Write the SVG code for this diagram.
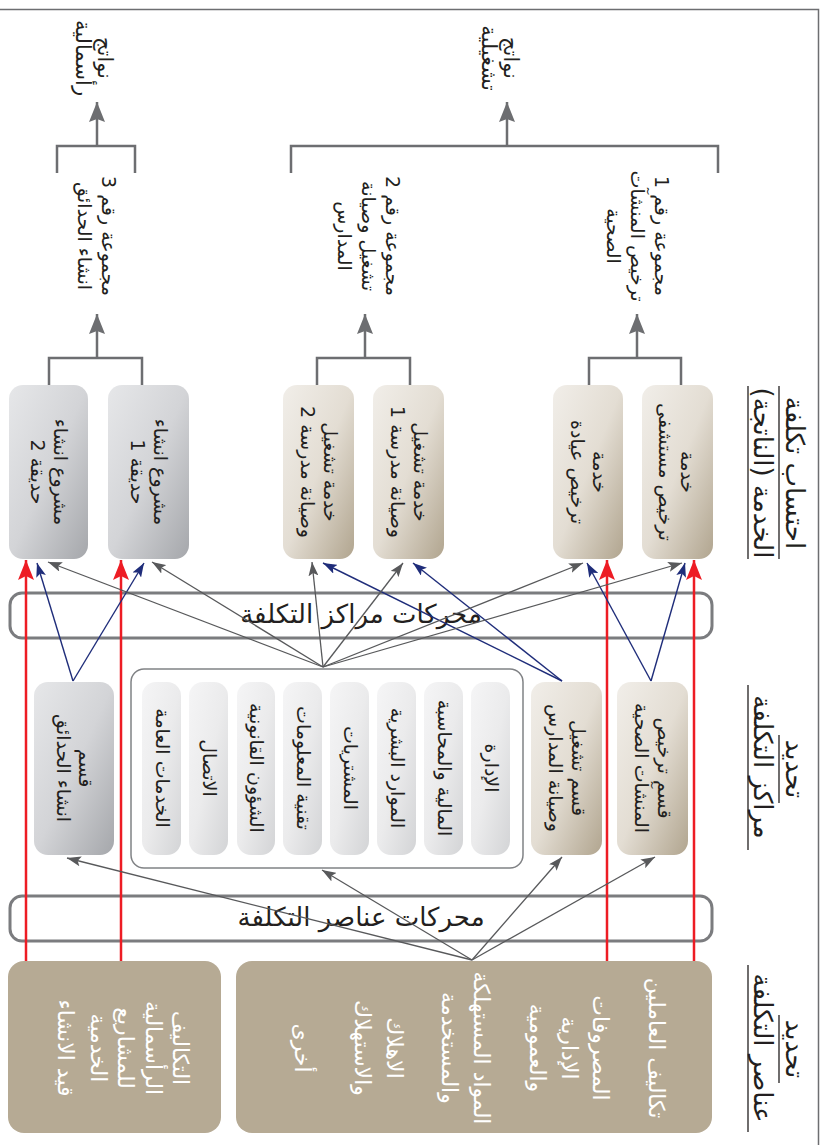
<svg xmlns="http://www.w3.org/2000/svg" width="824" height="1145" viewBox="0 0 824 1145">
<style>
.t{font-family:"DejaVu Sans",sans-serif;font-size:19px;fill:#231f20;text-anchor:middle;direction:rtl}
.o{font-family:"DejaVu Sans",sans-serif;font-size:21px;fill:#231f20;text-anchor:middle;direction:rtl}
.w{font-family:"DejaVu Sans",sans-serif;font-size:22px;fill:#ffffff;text-anchor:middle;direction:rtl}
.h{font-family:"DejaVu Sans",sans-serif;font-size:26px;fill:#231f20;text-anchor:middle;direction:rtl}
.b{font-family:"DejaVu Sans",sans-serif;font-size:26px;fill:#231f20;text-anchor:middle;direction:rtl}
.ul{stroke:#231f20;stroke-width:1.3}
.band{fill:none;stroke:#7b7c7f;stroke-width:3}
.tan{fill:url(#gt)}
.gry{fill:url(#gg)}
.lgt{fill:url(#gl)}
.red{stroke:#ed1c24;stroke-width:2.5;fill:none;marker-end:url(#ar)}
.blu{stroke:#1f2d7a;stroke-width:1.4;fill:none;marker-end:url(#ab)}
.gra{stroke:#58595b;stroke-width:1.3;fill:none;marker-end:url(#ag)}
.brk{stroke:#6d6e71;stroke-width:2.5;fill:none}
.bra{stroke:#6d6e71;stroke-width:2.5;fill:none;marker-end:url(#ak)}
</style>
<defs>
<linearGradient id="gt" x1="0" y1="0" x2="1" y2="1"><stop offset="0" stop-color="#f1eee9"/><stop offset="0.5" stop-color="#e3ddd3"/><stop offset="1" stop-color="#b1a58f"/></linearGradient>
<linearGradient id="gg" x1="0" y1="0" x2="1" y2="1"><stop offset="0" stop-color="#e6e7e9"/><stop offset="0.5" stop-color="#d3d4d7"/><stop offset="1" stop-color="#a5a7ab"/></linearGradient>
<linearGradient id="gl" x1="0" y1="0" x2="1" y2="1"><stop offset="0" stop-color="#f5f5f6"/><stop offset="0.5" stop-color="#ebebec"/><stop offset="1" stop-color="#d3d4d6"/></linearGradient>
<marker id="ar" viewBox="0 0 20 16" refX="20" refY="8" markerWidth="20" markerHeight="16" markerUnits="userSpaceOnUse" orient="auto"><path d="M0,0 L20,8 L0,16 L4,8z" fill="#ed1c24"/></marker>
<marker id="ab" viewBox="0 0 14 10" refX="14" refY="5" markerWidth="14" markerHeight="10" markerUnits="userSpaceOnUse" orient="auto"><path d="M0,0 L14,5 L0,10 L3,5z" fill="#1f2d7a"/></marker>
<marker id="ag" viewBox="0 0 14 10" refX="14" refY="5" markerWidth="14" markerHeight="10" markerUnits="userSpaceOnUse" orient="auto"><path d="M0,0 L14,5 L0,10 L3,5z" fill="#58595b"/></marker>
<marker id="ak" viewBox="0 0 20 16" refX="20" refY="8" markerWidth="20" markerHeight="16" markerUnits="userSpaceOnUse" orient="auto"><path d="M0,0 L20,8 L0,16 L3,8z" fill="#6d6e71"/></marker>
</defs>
<rect width="824" height="1145" fill="#ffffff"/>
<g id="frame" stroke="#6d6e71" stroke-width="1.5" fill="none">
<path d="M0,9.5 H818.5 V1145"/>
</g>

<g id="titles">
<g id="title-elements">
<text class="h" x="786" y="1049" transform="rotate(90 786 1049)">تحديد</text>
<text class="h" x="754" y="1048" transform="rotate(90 754 1048)">عناصر التكلفة</text>
<line class="ul" x1="779" y1="1015" x2="779" y2="1083"/>
<line class="ul" x1="748" y1="965" x2="748" y2="1132"/>
</g>
<g id="title-centers">
<text class="h" x="786" y="769" transform="rotate(90 786 769)">تحديد</text>
<text class="h" x="754" y="767" transform="rotate(90 754 767)">مراكز التكلفة</text>
<line class="ul" x1="779" y1="735" x2="779" y2="803"/>
<line class="ul" x1="748" y1="685" x2="748" y2="850"/>
</g>
<g id="title-service">
<text class="h" x="786" y="473" transform="rotate(90 786 473)">احتساب تكلفة</text>
<text class="h" x="754" y="473" transform="rotate(90 754 473)">الخدمة (الناتجة)</text>
<line class="ul" x1="779" y1="386" x2="779" y2="559"/>
<line class="ul" x1="748" y1="386" x2="748" y2="559"/>
</g>
</g>

<g id="band-elements">
<rect class="band" x="10" y="896" width="702" height="45" rx="12"/>
<text class="b" x="361" y="926">محركات عناصر التكلفة</text>
</g>
<g id="band-centers">
<rect class="band" x="10" y="593" width="702" height="45" rx="12"/>
<text class="b" x="361" y="623">محركات مراكز التكلفة</text>
</g>

<g id="cost-elements">
<rect x="236" y="961" width="476" height="172" rx="16" fill="#b6aa94"/>
<text class="w" x="649" y="1048" transform="rotate(90 649 1048)">تكاليف العاملين</text>
<text class="w" x="593" y="1048" transform="rotate(90 593 1048)">المصروفات</text>
<text class="w" x="562" y="1048" transform="rotate(90 562 1048)">الإدارية</text>
<text class="w" x="530" y="1048" transform="rotate(90 530 1048)">والعمومية</text>
<text class="w" x="474" y="1048" transform="rotate(90 474 1048)">المواد المستهلكة</text>
<text class="w" x="442" y="1048" transform="rotate(90 442 1048)">والمستخدمة</text>
<text class="w" x="387" y="1048" transform="rotate(90 387 1048)">الاهلاك</text>
<text class="w" x="355" y="1048" transform="rotate(90 355 1048)">والاستهلاك</text>
<text class="w" x="295" y="1048" transform="rotate(90 295 1048)">أخرى</text>
</g>
<g id="cost-capital">
<rect x="8" y="961" width="213" height="172" rx="16" fill="#b6aa94"/>
<text class="w" x="173" y="1048" transform="rotate(90 173 1048)">التكاليف</text>
<text class="w" x="146" y="1048" transform="rotate(90 146 1048)">الرأسمالية</text>
<text class="w" x="118" y="1048" transform="rotate(90 118 1048)">للمشاريع</text>
<text class="w" x="91" y="1048" transform="rotate(90 91 1048)">الخدمية</text>
<text class="w" x="58" y="1048" transform="rotate(90 58 1048)">قيد الانشاء</text>
</g>

<g id="dept-licensing">
<rect class="tan" x="617" y="682" width="71" height="173" rx="14"/>
<text class="t" x="658" y="768" transform="rotate(90 658 768)">قسم ترخيص</text>
<text class="t" x="635" y="768" transform="rotate(90 635 768)">المنشآت الصحية</text>
</g>
<g id="dept-schools">
<rect class="tan" x="531" y="682" width="71" height="173" rx="14"/>
<text class="t" x="572" y="768" transform="rotate(90 572 768)">قسم تشغيل</text>
<text class="t" x="549" y="768" transform="rotate(90 549 768)">وصيانة المدارس</text>
</g>
<g id="dept-support">
<rect x="131" y="669" width="392" height="199" rx="13" fill="#ffffff" stroke="#808285" stroke-width="1.5"/>
<rect class="lgt" x="471" y="682" width="39" height="173" rx="14"/>
<text class="t" x="484.5" y="768" transform="rotate(90 484.5 768)">الإدارة</text>
<rect class="lgt" x="424" y="682" width="39" height="173" rx="14"/>
<text class="t" x="437.5" y="768" transform="rotate(90 437.5 768)">المالية والمحاسبة</text>
<rect class="lgt" x="377" y="682" width="39" height="173" rx="14"/>
<text class="t" x="390.5" y="768" transform="rotate(90 390.5 768)">الموارد البشرية</text>
<rect class="lgt" x="330" y="682" width="39" height="173" rx="14"/>
<text class="t" x="343.5" y="768" transform="rotate(90 343.5 768)">المشتريات</text>
<rect class="lgt" x="283" y="682" width="39" height="173" rx="14"/>
<text class="t" x="296.5" y="768" transform="rotate(90 296.5 768)">تقنية المعلومات</text>
<rect class="lgt" x="237" y="682" width="38" height="173" rx="14"/>
<text class="t" x="250" y="768" transform="rotate(90 250 768)">الشؤون القانونية</text>
<rect class="lgt" x="189" y="682" width="39" height="173" rx="14"/>
<text class="t" x="202.5" y="768" transform="rotate(90 202.5 768)">الاتصال</text>
<rect class="lgt" x="142" y="682" width="39" height="173" rx="14"/>
<text class="t" x="155.5" y="768" transform="rotate(90 155.5 768)">الخدمات العامة</text>
</g>
<g id="dept-gardens">
<rect class="gry" x="34" y="682" width="80" height="173" rx="14"/>
<text class="t" x="79" y="768" transform="rotate(90 79 768)">قسم</text>
<text class="t" x="57" y="768" transform="rotate(90 57 768)">انشاء الحدائق</text>
</g>

<g id="svc-hospital">
<rect class="tan" x="642" y="385" width="71" height="174" rx="14"/>
<text class="t" x="681" y="472" transform="rotate(90 681 472)">خدمة</text>
<text class="t" x="659" y="472" transform="rotate(90 659 472)">ترخيص مستشفى</text>
</g>
<g id="svc-clinic">
<rect class="tan" x="553" y="385" width="70" height="174" rx="14"/>
<text class="t" x="593" y="472" transform="rotate(90 593 472)">خدمة</text>
<text class="t" x="571" y="472" transform="rotate(90 571 472)">ترخيص عيادة</text>
</g>
<g id="svc-school1">
<rect class="tan" x="373" y="385" width="71" height="174" rx="14"/>
<text class="t" x="414" y="472" transform="rotate(90 414 472)">خدمة تشغيل</text>
<text class="t" x="391" y="472" transform="rotate(90 391 472)">وصيانة مدرسة 1</text>
</g>
<g id="svc-school2">
<rect class="tan" x="283" y="385" width="71" height="174" rx="14"/>
<text class="t" x="324" y="472" transform="rotate(90 324 472)">خدمة تشغيل</text>
<text class="t" x="301" y="472" transform="rotate(90 301 472)">وصيانة مدرسة 2</text>
</g>
<g id="svc-garden1">
<rect class="gry" x="108" y="385" width="81" height="174" rx="14"/>
<text class="t" x="154" y="472" transform="rotate(90 154 472)">مشروع انشاء</text>
<text class="t" x="131" y="472" transform="rotate(90 131 472)">حديقة 1</text>
</g>
<g id="svc-garden2">
<rect class="gry" x="9" y="385" width="79" height="174" rx="14"/>
<text class="t" x="54" y="472" transform="rotate(90 54 472)">مشروع انشاء</text>
<text class="t" x="31" y="472" transform="rotate(90 31 472)">حديقة 2</text>
</g>

<g id="group1">
<text class="t" x="655" y="236" transform="rotate(90 655 236)">مجموعة رقم 1</text>
<text class="t" x="631" y="236" transform="rotate(90 631 236)">ترخيص المنشآت</text>
<text class="t" x="607" y="236" transform="rotate(90 607 236)">الصحية</text>
</g>
<g id="group2">
<text class="t" x="386" y="236" transform="rotate(90 386 236)">مجموعة رقم 2</text>
<text class="t" x="362" y="236" transform="rotate(90 362 236)">تشغيل وصيانة</text>
<text class="t" x="338" y="236" transform="rotate(90 338 236)">المدارس</text>
</g>
<g id="group3">
<text class="t" x="102" y="236" transform="rotate(90 102 236)">مجموعة رقم 3</text>
<text class="t" x="78" y="236" transform="rotate(90 78 236)">انشاء الحدائق</text>
</g>
<g id="out-operating">
<text class="o" x="504" y="58" transform="rotate(90 504 58)">نواتج</text>
<text class="o" x="482" y="58" transform="rotate(90 482 58)">تشغيلية</text>
</g>
<g id="out-capital">
<text class="o" x="98" y="58" transform="rotate(90 98 58)">نواتج</text>
<text class="o" x="76" y="58" transform="rotate(90 76 58)">رأسمالية</text>
</g>

<g id="connectors">
<line class="red" x1="26" y1="961" x2="26" y2="560"/>
<line class="red" x1="121" y1="961" x2="121" y2="560"/>
<line class="red" x1="607" y1="961" x2="607" y2="560"/>
<line class="red" x1="694" y1="961" x2="694" y2="560"/>
<line class="blu" x1="73" y1="681" x2="37" y2="563"/>
<line class="blu" x1="73" y1="681" x2="144" y2="563"/>
<line class="blu" x1="562" y1="681" x2="323" y2="563"/>
<line class="blu" x1="562" y1="681" x2="413" y2="563"/>
<line class="blu" x1="651" y1="681" x2="587" y2="563"/>
<line class="blu" x1="651" y1="681" x2="685" y2="563"/>
<line class="gra" x1="323" y1="667" x2="48" y2="562"/>
<line class="gra" x1="323" y1="667" x2="152" y2="562"/>
<line class="gra" x1="323" y1="667" x2="312" y2="562"/>
<line class="gra" x1="323" y1="667" x2="403" y2="563"/>
<line class="gra" x1="323" y1="667" x2="583" y2="563"/>
<line class="gra" x1="323" y1="667" x2="682" y2="563"/>
<line class="gra" x1="472" y1="960" x2="67" y2="858"/>
<line class="gra" x1="472" y1="960" x2="322" y2="870"/>
<line class="gra" x1="472" y1="960" x2="562" y2="857"/>
<line class="gra" x1="472" y1="960" x2="655" y2="857"/>
<path class="brk" d="M49,385 V358 H142 V385"/>
<line class="bra" x1="97" y1="358" x2="97" y2="314"/>
<path class="brk" d="M317,385 V358 H410 V385"/>
<line class="bra" x1="365" y1="358" x2="365" y2="314"/>
<path class="brk" d="M589,385 V358 H681 V385"/>
<line class="bra" x1="637" y1="358" x2="637" y2="314"/>
<path class="brk" d="M291,173 V146 H718 V173"/>
<line class="bra" x1="507" y1="146" x2="507" y2="102"/>
<path class="brk" d="M57,173 V146 H135 V173"/>
<line class="bra" x1="97" y1="146" x2="97" y2="102"/>
</g>
</svg>
